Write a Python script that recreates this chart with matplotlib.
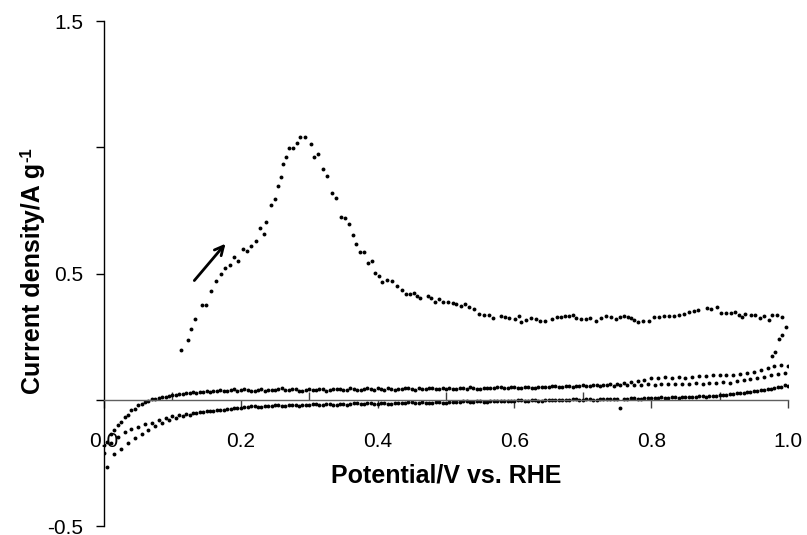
import matplotlib
matplotlib.use('Agg')
import matplotlib.pyplot as plt

plt.rcParams['font.family'] = ['Liberation Sans', 'DejaVu Sans']

# ---------------- data ----------------
# first anodic sweep (with oxidation peak) and start of reverse sweep
main_x = [0.1124,0.1222,0.1274,0.1328,0.1435,0.1485,0.1562,0.1635,0.1704,0.1766,
          0.1839,0.1898,0.1961,0.2034,0.2088,0.2156,0.2223,0.2282,0.2336,0.2375,
          0.2448,0.2501,0.2540,0.2584,0.2623,0.2661,0.2705,0.2764,0.2818,0.2861,
          0.2939,0.3022,0.3076,0.3134,0.3201,0.3255,0.3339,0.3397,0.3464,0.3518,
          0.3587,0.3645,0.3689,0.3747,0.3796,0.3864,0.3917,0.3961,0.4015,0.4069,
          0.4136,0.4204,0.4277,0.4355,0.4419,0.4477,0.4536,0.4574,0.4623,0.4730,
          0.4784,0.4842,0.4895,0.4953,0.5022,0.5099,0.5149,0.5222,0.5280,0.5343,
          0.5416,0.5489,0.5552,0.5625,0.5693,0.5806,0.5864,0.5923,0.6015,0.6073,
          0.6098,0.6171,0.6248,0.6317,0.6380,0.6453,0.6550,0.6618,0.6682,0.6745,
          0.6803,0.6861,0.6901,0.6974,0.7047,0.7105,0.7193,0.7266,0.7339,0.7412,
          0.7484,0.7543,0.7606,0.7654,0.7704,0.7752,0.7810,0.7873,0.7961,0.8044,
          0.8117,0.8190,0.8263,0.8336,0.8409,0.8482,0.8555,0.8628,0.8691,0.8822,
          0.8872,0.8968,0.9018,0.9091,0.9164,0.9226,0.9285,0.9324,0.9372,0.9455,
          0.9518,0.9591,0.9650,0.9723,0.9771,0.9844,0.9917,0.9966,0.9917,0.9869,
          0.9810,0.9762]
main_y = [0.198,0.239,0.281,0.322,0.378,0.378,0.431,0.472,0.497,0.522,
          0.536,0.566,0.551,0.599,0.592,0.610,0.631,0.681,0.659,0.705,
          0.771,0.796,0.847,0.884,0.934,0.963,0.997,0.997,1.018,1.043,
          1.043,1.014,0.963,0.973,0.913,0.888,0.818,0.800,0.726,0.722,
          0.697,0.655,0.619,0.586,0.586,0.542,0.551,0.502,0.493,0.469,
          0.476,0.473,0.452,0.436,0.420,0.420,0.424,0.411,0.402,0.411,
          0.402,0.387,0.398,0.387,0.390,0.386,0.381,0.374,0.381,0.370,
          0.359,0.339,0.337,0.338,0.326,0.334,0.330,0.326,0.321,0.331,
          0.307,0.317,0.326,0.321,0.314,0.314,0.319,0.329,0.329,0.331,
          0.333,0.335,0.323,0.319,0.321,0.325,0.314,0.326,0.334,0.330,
          0.321,0.330,0.333,0.327,0.325,0.317,0.307,0.311,0.311,0.327,
          0.330,0.331,0.333,0.334,0.335,0.339,0.347,0.353,0.357,0.365,
          0.361,0.370,0.345,0.345,0.345,0.350,0.338,0.327,0.341,0.337,
          0.337,0.325,0.334,0.317,0.337,0.337,0.330,0.291,0.258,0.241,
          0.192,0.175]

# potential grids of the later sweeps (mV)
grid_a_mV = [0,10,20,30,40,50,60,70,80,90,
             100,110,120,130,140,150,160,170,180,190,
             200,210,220,230,240,250,260,270,280,290,
             300,310,320,330,340,350,360,370,380,390,
             400,410,420,430,440,450,460,470,480,490,
             500,510,520,530,540,550,560,570,580,590,
             600,610,620,630,640,650,660,670,680,690,
             700,710,720,730,740,750,760,770,780,790,
             800,810,820,830,840,850,860,870,880,890,
             900,910,920,930,940,950,960,970,980,990,
             1000]
grid_b_mV = [5,15,25,35,45,55,65,75,85,95,
             105,115,125,135,145,155,165,175,185,195,
             205,215,225,235,245,255,265,275,285,295,
             305,315,325,335,345,355,365,375,385,395,
             405,415,425,435,445,455,465,475,485,495,
             505,515,525,535,545,555,565,575,585,595,
             605,615,625,635,645,655,665,675,685,695,
             705,715,725,735,745,755,765,775,785,795,
             805,815,825,835,845,855,865,875,885,895,
             905,915,925,935,945,955,965,975,985,995]

upper_a = [-0.180,-0.135,-0.100,-0.068,-0.040,-0.020,-0.008,0.002,0.008,0.012,
           0.018,0.024,0.026,0.031,0.030,0.036,0.034,0.040,0.037,0.042,
           0.038,0.041,0.036,0.043,0.039,0.040,0.046,0.038,0.042,0.037,
           0.044,0.040,0.045,0.039,0.043,0.041,0.046,0.040,0.044,0.042,
           0.047,0.041,0.045,0.043,0.048,0.042,0.046,0.044,0.049,0.045,
           0.045,0.042,0.048,0.044,0.049,0.045,0.048,0.046,0.050,0.047,
           0.051,0.048,0.052,0.049,0.053,0.051,0.055,0.052,0.056,0.054,
           0.058,0.056,0.060,0.059,0.063,0.064,0.069,0.072,0.077,0.081,
           0.086,0.088,0.090,0.089,0.091,0.089,0.092,0.094,0.093,0.097,
           0.097,0.099,0.098,0.102,0.106,0.111,0.118,0.126,0.133,0.140,
           0.136]
upper_b = [-0.165,-0.120,-0.088,-0.058,-0.034,-0.016,-0.004,0.004,0.010,0.014,
           0.020,0.022,0.028,0.027,0.033,0.031,0.037,0.035,0.039,0.036,
           0.043,0.037,0.040,0.035,0.041,0.044,0.039,0.042,0.036,0.041,
           0.038,0.043,0.037,0.042,0.045,0.039,0.043,0.038,0.046,0.041,
           0.043,0.046,0.040,0.044,0.047,0.041,0.045,0.048,0.042,0.046,
           0.049,0.044,0.047,0.051,0.045,0.049,0.046,0.052,0.048,0.050,
           0.047,0.051,0.049,0.053,0.050,0.054,0.052,0.055,0.053,0.057,
           0.055,0.058,0.056,0.059,0.057,0.060,0.058,0.061,0.060,0.062,
           0.061,0.063,0.064,0.062,0.065,0.064,0.066,0.065,0.068,0.067,
           0.070,0.069,0.074,0.078,0.082,0.087,0.092,0.097,0.103,0.108]
lower_a = [-0.210,-0.170,-0.145,-0.126,-0.116,-0.106,-0.097,-0.090,-0.080,-0.072,
           -0.065,-0.060,-0.055,-0.050,-0.048,-0.044,-0.042,-0.038,-0.036,-0.033,
           -0.030,-0.027,-0.024,-0.026,-0.022,-0.020,-0.023,-0.019,-0.021,-0.018,
           -0.020,-0.016,-0.019,-0.015,-0.018,-0.014,-0.017,-0.013,-0.016,-0.012,
           -0.015,-0.011,-0.014,-0.010,-0.013,-0.009,-0.012,-0.010,-0.011,-0.008,
           -0.010,-0.007,-0.009,-0.006,-0.008,-0.005,-0.007,-0.004,-0.006,-0.003,
           -0.005,-0.002,-0.004,-0.001,-0.003,0.000,-0.002,0.001,-0.001,0.002,
           0.000,0.003,0.001,0.004,0.002,0.005,0.003,0.006,0.004,0.007,
           0.006,0.009,0.007,0.010,0.009,0.012,0.011,0.014,0.013,0.016,
           0.018,0.021,0.023,0.027,0.030,0.034,0.038,0.043,0.047,0.052,
           0.056]
lower_b = [-0.265,-0.215,-0.195,-0.172,-0.152,-0.133,-0.117,-0.103,-0.090,-0.080,
           -0.071,-0.064,-0.058,-0.053,-0.049,-0.045,-0.041,-0.039,-0.035,-0.032,
           -0.029,-0.025,-0.028,-0.023,-0.025,-0.021,-0.024,-0.020,-0.022,-0.019,
           -0.017,-0.021,-0.016,-0.019,-0.014,-0.018,-0.013,-0.016,-0.012,-0.015,
           -0.012,-0.014,-0.010,-0.013,-0.009,-0.012,-0.008,-0.011,-0.009,-0.010,
           -0.008,-0.009,-0.006,-0.008,-0.005,-0.007,-0.004,-0.006,-0.003,-0.005,
           -0.002,-0.004,-0.001,-0.003,0.000,-0.002,0.001,-0.001,0.002,0.000,
           0.002,0.001,0.004,0.002,0.005,-0.030,0.004,0.007,0.005,0.008,
           0.008,0.010,0.009,0.012,0.011,0.013,0.012,0.015,0.014,0.017,
           0.020,0.022,0.026,0.029,0.033,0.036,0.041,0.045,0.050,0.060]

x_ticks = [0.0, 0.2, 0.4, 0.6, 0.8, 1.0]
x_tick_labels = ['0.0', '0.2', '0.4', '0.6', '0.8', '1.0']
x_minor = [0.1, 0.3, 0.5, 0.7, 0.9]
y_ticks = [-0.5, 0.5, 1.5]
y_tick_labels = ['-0.5', '0.5', '1.5']
y_minor = [0.0, 1.0]
x_label = 'Potential/V vs. RHE'
y_label = 'Current density/A g'
y_label_sup = '-1'

# ---------------- figure ----------------
W, H = 807, 535
fig = plt.figure(figsize=(W / 100, H / 100), dpi=100)
ax = fig.add_axes([0.1289, 0.0164, 0.8476, 0.9439])

grid_a = [v / 1000 for v in grid_a_mV]
grid_b = [v / 1000 for v in grid_b_mV]

style = dict(ls='none', marker='o', ms=2.8, mew=0, color='black')
ax.plot(main_x, main_y, **style)
ax.plot(grid_a, upper_a, **style)
ax.plot(grid_b, upper_b, **style)
ax.plot(grid_a, lower_a, **style)
ax.plot(grid_b, lower_b, **style)

ax.set_xlim(0, 1.0)
ax.set_ylim(-0.5, 1.5)

for s in ('top', 'right'):
    ax.spines[s].set_visible(False)
ax.spines['bottom'].set_position(('data', 0))
ax.spines['bottom'].set_color('#606060')
ax.spines['bottom'].set_linewidth(1.0)
ax.spines['left'].set_color('black')
ax.spines['left'].set_linewidth(1.0)

ax.set_xticks(x_ticks)
ax.set_xticklabels(x_tick_labels)
ax.set_xticks(x_minor, minor=True)
ax.set_yticks(y_ticks)
ax.set_yticklabels(y_tick_labels)
ax.set_yticks(y_minor, minor=True)

ax.tick_params(axis='x', which='major', direction='out', length=6, width=1,
               color='#404040', labelsize=15, pad=17)
ax.tick_params(axis='x', which='minor', direction='in', length=5.5, width=1,
               color='#404040')
ax.tick_params(axis='y', which='both', direction='out', length=6, width=1,
               color='black', labelsize=15, pad=9)

ax.set_xlabel(x_label, fontsize=18, fontweight='bold')
ax.xaxis.set_label_coords(0.5, 0.0995)
ax.xaxis.label.set_va('center')
ax.set_ylabel(y_label, fontsize=18, fontweight='bold')
ax.yaxis.set_label_coords(-0.104, 0.49)
ax.yaxis.label.set_va('center')

ax.annotate('', xy=(0.1776, 0.619), xytext=(0.132, 0.473),
            arrowprops=dict(arrowstyle='->', lw=2, color='black',
                            mutation_scale=16, shrinkA=0, shrinkB=0))

# superscript "-1" after the rotated y label
fig.canvas.draw()
bb = ax.yaxis.label.get_window_extent()
fig.text((bb.x0 - 2) / W, (bb.y1 + 1) / H, y_label_sup, rotation=90,
         ha='left', va='bottom', fontsize=12, fontweight='bold')

fig.savefig('out.png', dpi=100)
